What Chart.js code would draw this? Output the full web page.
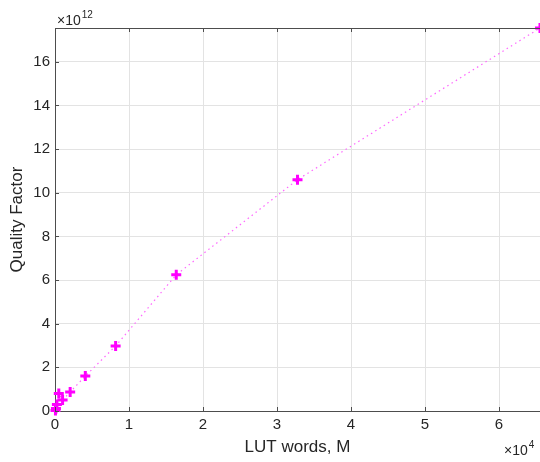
<!DOCTYPE html>
<html>
<head>
<meta charset="utf-8">
<script src="https://cdn.jsdelivr.net/npm/chart.js@4"></script>
<style>
  html, body { margin: 0; padding: 0; background: #fff; }
  #wrap { width: 540px; height: 462px; }
</style>
</head>
<body>
<div id="wrap"><canvas id="chart"></canvas></div>
<script>
// LUT words vs quality factor
const lutWords = [64, 128, 256, 512, 1024, 2048, 4096, 8192, 16384, 32768, 65536];
const qualityFactor = [0.02e12, 0.12e12, 0.3e12, 0.8e12, 0.5e12, 0.87e12, 1.6e12, 2.98e12, 6.24e12, 10.6e12, 17.55e12];
const xTicks = [0, 1, 2, 3, 4, 5, 6];               // x 10^4
const yTicks = [0, 2, 4, 6, 8, 10, 12, 14, 16];     // x 10^12
const xScaleExp = 1e4;
const yScaleExp = 1e12;

const textColor = '#262626';
const axisColor = '#4d4d4d';
const font = "'Liberation Sans', Arial, sans-serif";

// top frame line, inward tick marks + exponent labels, MATLAB style
const framePlugin = {
  id: 'frame',
  afterDraw(chart) {
    const { ctx, chartArea: a } = chart;
    const xs = chart.scales.x, ys = chart.scales.y;
    ctx.save();
    ctx.strokeStyle = axisColor;
    ctx.lineWidth = 1;
    ctx.beginPath();
    ctx.moveTo(a.left, a.top + 0.5);
    ctx.lineTo(a.right, a.top + 0.5);
    xs.ticks.forEach(t => {
      const px = Math.round(xs.getPixelForValue(t.value)) + 0.5;
      ctx.moveTo(px, a.bottom);
      ctx.lineTo(px, a.bottom - 4);
      ctx.moveTo(px, a.top);
      ctx.lineTo(px, a.top + 4);
    });
    ys.ticks.forEach(t => {
      const py = Math.round(ys.getPixelForValue(t.value)) + 0.5;
      ctx.moveTo(a.left, py);
      ctx.lineTo(a.left + 4, py);
    });
    ctx.stroke();

    ctx.fillStyle = textColor;
    ctx.textBaseline = 'alphabetic';
    drawExp(ctx, '\u00d710', '12', a.left + 2, 25);
    drawExp(ctx, '\u00d710', '4', 504, 455);
    ctx.restore();
  }
};

function drawExp(ctx, base, exp, x, y) {
  ctx.font = '14px ' + font;
  ctx.fillText(base, x, y);
  const w = ctx.measureText(base).width;
  ctx.font = '10px ' + font;
  ctx.fillText(exp, x + w + 1, y - 7);
}

new Chart(document.getElementById('chart'), {
  type: 'scatter',
  data: {
    datasets: [{
      data: lutWords.map((x, i) => ({ x: x, y: qualityFactor[i] })),
      showLine: true,
      borderColor: '#ff66ff',
      borderWidth: 1.2,
      borderDash: [1.5, 3.5],
      pointStyle: 'cross',
      pointRadius: 5,
      pointBorderWidth: 3,
      pointBorderColor: '#ff00ff',
      pointBackgroundColor: '#ff00ff',
      clip: false
    }]
  },
  options: {
    responsive: true,
    maintainAspectRatio: false,
    animation: false,
    layout: {
      autoPadding: false,
      padding: { top: 28, right: 0, left: 0, bottom: 0 }
    },
    plugins: {
      legend: { display: false },
      tooltip: { enabled: false }
    },
    scales: {
      x: {
        type: 'linear',
        min: 0,
        max: 65536,
        afterFit(scale) {
          scale.height = 51;
          scale.paddingLeft = 0;
          scale.paddingRight = 0;
        },
        afterBuildTicks(scale) { scale.ticks = xTicks.map(v => ({ value: v * xScaleExp })); },
        border: { color: axisColor, width: 1 },
        grid: { color: '#e3e3e3', drawTicks: false },
        ticks: {
          maxRotation: 0,
          padding: 5,
          color: textColor,
          font: { family: font, size: 15 },
          callback: v => v / xScaleExp
        },
        title: {
          display: true,
          text: 'LUT words, M',
          color: textColor,
          font: { family: font, size: 17 },
          padding: { top: 0, bottom: 4 }
        }
      },
      y: {
        type: 'linear',
        min: 0,
        max: 17.55e12,
        afterFit(scale) {
          scale.width = 55;
          scale.paddingTop = 0;
          scale.paddingBottom = 0;
        },
        afterBuildTicks(scale) { scale.ticks = yTicks.map(v => ({ value: v * yScaleExp })); },
        border: { color: axisColor, width: 1 },
        grid: { color: '#e3e3e3', drawTicks: false },
        ticks: {
          padding: 5,
          color: textColor,
          font: { family: font, size: 15 },
          callback: v => v / yScaleExp
        },
        title: {
          display: true,
          text: 'Quality Factor',
          color: textColor,
          font: { family: font, size: 17 },
          padding: { top: 7, bottom: 0 }
        }
      }
    }
  },
  plugins: [framePlugin]
});
</script>
</body>
</html>
